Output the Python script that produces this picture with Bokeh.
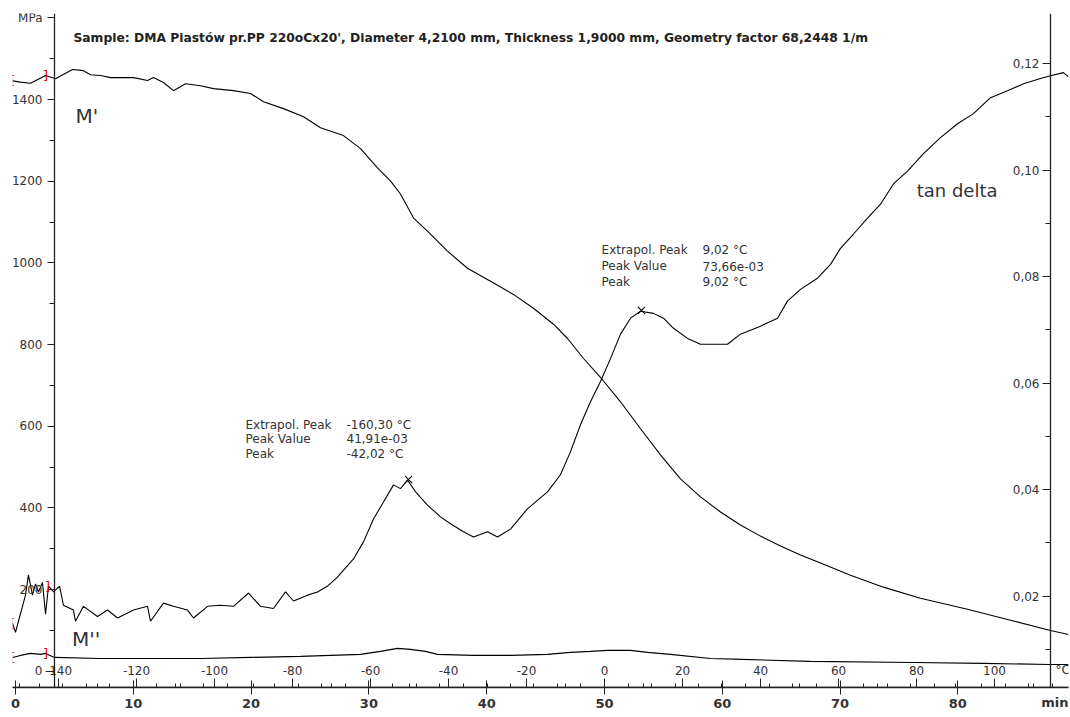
from bokeh.plotting import figure
from bokeh.models import Range1d, LinearAxis, FixedTicker, CustomJSTickFormatter, Label
from bokeh.core.properties import value
from bokeh.embed import file_html
from bokeh.resources import INLINE

# ---------------- data ----------------
# storage modulus M' (MPa) vs time (min)
mp_time = [-0.25, 0.42, 1.27, 2.55, 3.40, 4.84, 5.77, 6.37, 7.22, 8.06, 10.02, 11.21, 11.71,
           12.56, 13.41, 14.43, 15.70, 16.81, 18.51, 19.95, 21.05, 22.75, 24.45, 25.89, 27.84,
           29.29, 30.73, 31.83, 32.68, 33.79, 34.97, 36.67, 38.37, 40.32, 42.27, 43.97, 45.67,
           46.86, 48.22, 49.83, 51.36, 53.06, 54.75, 56.45, 58.15, 59.85, 61.54, 63.24, 64.94,
           66.64, 68.34, 70.88, 73.68, 76.82, 80.81, 84.47, 87.86, 89.39]
mp_mpa = [1446, 1443, 1440, 1459, 1451, 1474, 1471, 1461, 1459, 1454, 1454, 1447, 1454,
          1442, 1422, 1439, 1434, 1427, 1422, 1415, 1395, 1378, 1358, 1331, 1312,
          1280, 1233, 1201, 1169, 1110, 1078, 1029, 987, 955, 923, 889, 850,
          815, 766, 714, 660, 594, 530, 471, 427, 390, 358, 331, 307,
          285, 265, 235, 206, 179, 152, 125, 100, 90]

# loss modulus M'' (MPa) vs time (min)
mpp_time = [-0.25, 0.42, 1.27, 2.12, 2.55, 3.31, 7.22, 11.46, 15.70, 19.95, 24.19, 26.74,
            29.29, 30.98, 32.43, 33.53, 34.80, 35.82, 38.88, 42.02, 45.16, 47.11, 48.81,
            50.25, 52.21, 53.65, 55.60, 59.00, 61.71, 67.49, 76.23, 82.17, 87.86, 89.39]
mpp_mpa = [33.9, 38.8, 43.7, 41.3, 43.7, 33.9, 31.4, 31.4, 31.4, 33.9, 36.4, 38.8,
           41.3, 48.6, 56.0, 53.6, 48.6, 41.3, 38.8, 38.8, 41.3, 46.2, 48.6,
           51.1, 51.1, 46.2, 41.3, 31.4, 29.0, 24.1, 21.6, 19.2, 16.7, 16.7]

# tan delta vs time (min)
td_time = [-0.25, 0.00, 0.25, 0.59, 0.85, 1.10, 1.44, 1.70, 1.95, 2.29, 2.55, 2.80, 3.23,
           3.74, 4.07, 4.92, 5.09, 5.77, 6.96, 7.81, 8.66, 10.02, 11.21, 11.46, 12.56,
           13.41, 14.60, 15.11, 16.30, 17.40, 18.51, 19.78, 20.80, 21.90, 22.92, 23.60,
           24.79, 25.64, 26.49, 27.33, 28.69, 29.54, 30.39, 31.24, 32.09, 32.68, 33.28,
           33.96, 34.97, 36.08, 36.93, 38.03, 38.88, 40.07, 40.92, 42.02, 43.46, 45.16,
           46.26, 47.11, 47.96, 48.81, 49.66, 50.51, 51.36, 52.21, 53.06, 54.16, 55.01,
           55.86, 57.05, 58.15, 60.44, 61.54, 63.24, 64.69, 65.53, 66.64, 68.08, 69.19,
           70.03, 71.14, 72.33, 73.43, 74.53, 75.72, 77.08, 78.52, 79.97, 81.32, 82.77,
           84.21, 85.57, 87.01, 87.86, 88.96, 89.39]
td_value = [0.0149, 0.0132, 0.0153, 0.0181, 0.0202, 0.0240, 0.0202, 0.0223, 0.0208, 0.0226,
            0.0166, 0.0219, 0.0208, 0.0219, 0.0183, 0.0174, 0.0153, 0.0181, 0.0162, 0.0174,
            0.0159, 0.0174, 0.0181, 0.0153, 0.0187, 0.0181, 0.0174, 0.0159, 0.0181, 0.0183,
            0.0181, 0.0206, 0.0181, 0.0177, 0.0208, 0.0191, 0.0202, 0.0208, 0.0219, 0.0236,
            0.0270, 0.0302, 0.0345, 0.0377, 0.0409, 0.0402, 0.0418, 0.0396, 0.0371, 0.0349,
            0.0336, 0.0321, 0.0311, 0.0321, 0.0311, 0.0326, 0.0364, 0.0396, 0.0428, 0.0471,
            0.0522, 0.0565, 0.0603, 0.0646, 0.0692, 0.0722, 0.0735, 0.0731, 0.0722, 0.0703,
            0.0684, 0.0673, 0.0673, 0.0692, 0.0707, 0.0722, 0.0754, 0.0776, 0.0797, 0.0823,
            0.0853, 0.0880, 0.0910, 0.0936, 0.0974, 0.0998, 0.1031, 0.1061, 0.1087, 0.1106,
            0.1136, 0.1149, 0.1162, 0.1172, 0.1177, 0.1183, 0.1175]

peak_time = [33.36, 53.14]
peak_tan = [0.04191, 0.07366]

peak1_names = ["Extrapol. Peak", "Peak Value", "Peak"]
peak1_values = ["-160,30 °C", "41,91e-03", "-42,02 °C"]
peak2_names = ["Extrapol. Peak", "Peak Value", "Peak"]
peak2_values = ["9,02 °C", "73,66e-03", "9,02 °C"]

time_ticks = [0, 10, 20, 30, 40, 50, 60, 70, 80]
time_minor = list(range(0, 90, 2))
temp_ticks = [-140, -120, -100, -80, -60, -40, -20, 0, 20, 40, 60, 80, 100]
temp_minor = list(range(-150, 120, 10))
mpa_ticks = [0, 200, 400, 600, 800, 1000, 1200, 1400, 1600]
mpa_minor = [100, 300, 500, 700, 900, 1100, 1300, 1500]
tan_ticks = [0.02, 0.04, 0.06, 0.08, 0.10, 0.12]
tan_minor = [0.01, 0.03, 0.05, 0.07, 0.09, 0.11]

title_text = ("Sample: DMA Piastów pr.PP 220oCx20', Diameter 4,2100 mm, "
              "Thickness 1,9000 mm, Geometry factor 68,2448 1/m")

FONT = "DejaVu Sans"
TXT = "#333333"

# ---------------- figure ----------------
p = figure(width=1070, height=717, output_backend="svg", toolbar_location=None,
           x_range=Range1d(-0.255, 89.39), y_range=Range1d(-39.8, 1611),
           x_axis_location=None, y_axis_location=None,
           min_border_left=12, min_border_right=2, min_border_top=13, min_border_bottom=30)
p.grid.visible = False
p.outline_line_color = None
p.background_fill_color = "white"
p.border_fill_color = "white"

p.extra_y_ranges = {"tan": Range1d(0.00286, 0.1294)}
p.extra_x_ranges = {"temp": Range1d(-151.8, 118.97)}


def style_axis(ax, size="12px", bold=False):
    ax.axis_line_color = "#222222"
    ax.axis_line_width = 1.3
    ax.major_tick_line_color = "#222222"
    ax.minor_tick_line_color = "#222222"
    ax.major_label_text_font = FONT
    ax.major_label_text_font_size = size
    ax.major_label_text_color = TXT
    if bold:
        ax.major_label_text_font_style = "bold"


# time axis (bottom)
xa = LinearAxis(ticker=FixedTicker(ticks=time_ticks, minor_ticks=time_minor),
                formatter=CustomJSTickFormatter(code="return tick.toFixed(0);"))
style_axis(xa, "13px", bold=True)
xa.major_tick_out = 7
xa.major_tick_in = 7
xa.minor_tick_out = 0
xa.minor_tick_in = 4
xa.major_label_standoff = 4
xa.axis_label = "min" + "\u00a0" * 6
xa.axis_label_align = "end"
xa.axis_label_standoff = -16
xa.axis_label_text_font = FONT
xa.axis_label_text_font_size = "13px"
xa.axis_label_text_font_style = "bold"
xa.axis_label_text_color = TXT
p.add_layout(xa, "below")

# temperature axis (labels above the same line)
ta = LinearAxis(x_range_name="temp", fixed_location=-39.8,
                ticker=FixedTicker(ticks=temp_ticks, minor_ticks=temp_minor),
                formatter=CustomJSTickFormatter(code="return tick.toFixed(0);"))
style_axis(ta, "12px")
ta.major_tick_out = 9
ta.major_tick_in = 0
ta.minor_tick_out = 4
ta.minor_tick_in = 0
ta.major_label_standoff = 4
p.add_layout(ta, "above")

# MPa axis (left)
ya = LinearAxis(fixed_location=3.31,
                ticker=FixedTicker(ticks=mpa_ticks, minor_ticks=mpa_minor),
                formatter=CustomJSTickFormatter(code="return tick >= 1600 ? 'MPa' : tick.toFixed(0);"))
style_axis(ya, "12px")
ya.major_tick_out = 7
ya.major_tick_in = 0
ya.minor_tick_out = 5
ya.minor_tick_in = 0
ya.major_label_standoff = 5
p.add_layout(ya, "left")

# tan delta axis (drawn near the right edge, labels to its left)
ra = LinearAxis(y_range_name="tan", fixed_location=87.86,
                ticker=FixedTicker(ticks=tan_ticks, minor_ticks=tan_minor),
                formatter=CustomJSTickFormatter(code="return tick.toFixed(2).replace('.', ',');"))
style_axis(ra, "12px")
ra.major_tick_out = 8
ra.major_tick_in = 0
ra.minor_tick_out = 5
ra.minor_tick_in = 0
ra.major_label_standoff = 3
p.add_layout(ra, "left")

# ---------------- curves ----------------
p.line(mp_time, mp_mpa, line_color="black", line_width=1.1)
p.line(mpp_time, mpp_mpa, line_color="black", line_width=1.1)
p.line(td_time, td_value, line_color="black", line_width=1.1, y_range_name="tan")
p.scatter(peak_time, peak_tan, marker="x", size=10, line_color="black", line_width=1.1,
          y_range_name="tan")

# red start/end brackets of the initial segment
p.text([mp_time[0], mpp_time[0]], [mp_mpa[0], mpp_mpa[0]], text=["[", "["],
       text_color="#e00000", text_font=value(FONT), text_font_size="13px",
       text_align="center", text_baseline="middle")
p.text([mp_time[3], mpp_time[4]], [mp_mpa[3], mpp_mpa[4]], text=["]", "]"],
       text_color="#e00000", text_font=value(FONT), text_font_size="13px",
       text_align="center", text_baseline="middle")
p.text([td_time[0], 2.72], [td_value[0], 0.0219], text=["[", "]"],
       text_color="#e00000", text_font=value(FONT), text_font_size="13px",
       text_align="center", text_baseline="middle", y_range_name="tan")

# ---------------- texts ----------------
p.add_layout(Label(x=4.92, y=1552, text=title_text, text_font=FONT, text_font_size="12.3px",
                   text_font_style="bold", text_color="#222222", text_baseline="middle"))
p.add_layout(Label(x=5.1, y=1361, text="M'", text_font=FONT, text_font_size="20px",
                   text_color=TXT, text_baseline="middle"))
p.add_layout(Label(x=4.8, y=80, text="M''", text_font=FONT, text_font_size="20px",
                   text_color=TXT, text_baseline="middle"))
p.add_layout(Label(x=76.5, y=0.0961, y_range_name="tan", text="tan delta", text_font=FONT,
                   text_font_size="18px", text_color=TXT, text_baseline="middle"))

p.text([19.52] * 3, [604, 569, 532], text=peak1_names, text_font=value(FONT),
       text_font_size="12px", text_color=TXT, text_baseline="middle")
p.text([28.10] * 3, [604, 569, 532], text=peak1_values, text_font=value(FONT),
       text_font_size="12px", text_color=TXT, text_baseline="middle")
p.text([49.75] * 3, [1031, 992, 953], text=peak2_names, text_font=value(FONT),
       text_font_size="12px", text_color=TXT, text_baseline="middle")
p.text([58.32] * 3, [1031, 992, 953], text=peak2_values, text_font=value(FONT),
       text_font_size="12px", text_color=TXT, text_baseline="middle")

p.add_layout(Label(x=88.29, y=2, text="°C", text_font=FONT, text_font_size="12px",
                   text_color=TXT, text_baseline="middle"))

open("out.html", "w").write(file_html(p, INLINE))
